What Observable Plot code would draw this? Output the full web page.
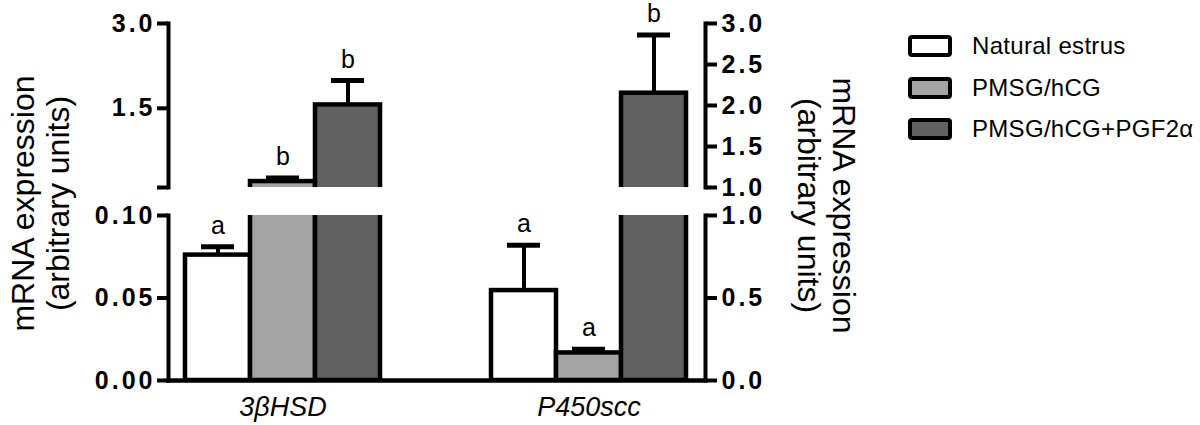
<!DOCTYPE html>
<html>
<head>
<meta charset="utf-8">
<script src="https://cdn.jsdelivr.net/npm/d3@7"></script>
<script src="https://cdn.jsdelivr.net/npm/@observablehq/plot@0.6"></script>
<style>
  body { margin: 0; background: #fff; }
  #chart { position: relative; width: 1200px; height: 425px; font-family: 'Liberation Sans', Arial, Helvetica, sans-serif; color: #000; }
  #chart svg { position: absolute; left: 0; top: 0; }
  g[aria-label="y-axis tick label"] { font-weight: bold; letter-spacing: 3px; font-size: 25px; }
  g[aria-label="ytitle"] text { letter-spacing: 1.2px; }
  .legend { position: absolute; left: 908px; top: 35px; }
  .legend .row { display: flex; align-items: center; height: 22px; }
  .legend .row + .row { margin-top: 19.5px; }
  .legend .sw { box-sizing: border-box; width: 44px; height: 22px; border: 4px solid #000; border-radius: 4px; }
  .legend .lab { margin-left: 20px; font-size: 24px; line-height: 22px; white-space: nowrap; letter-spacing: 0.3px; }
</style>
</head>
<body>
<div id="chart"></div>
<script>
// ---- data ----
const genes = ["3βHSD", "P450scc"];
const series = ["Natural estrus", "PMSG/hCG", "PMSG/hCG+PGF2α"];
const fills = ["#ffffff", "#a3a3a3", "#616161"];

const hsdMean = [0.076, 0.205, 1.56];
const hsdUpper = [0.081, 0.27, 1.99];
const hsdLetters = ["a", "b", "b"];

const p450Mean = [0.545, 0.167, 2.15];
const p450Upper = [0.82, 0.19, 2.86];
const p450Letters = ["a", "a", "b"];

const leftLowerDomain = [0, 0.1];
const leftUpperDomain = [0.1, 3.0];
const rightLowerDomain = [0, 1.0];
const rightUpperDomain = [1.0, 3.0];

const leftLowerTicks = [0, 0.05, 0.10];
const leftUpperTicks = [0.1, 1.5, 3.0];
const leftUpperLabels = ["", "1.5", "3.0"];
const rightLowerTicks = [0, 0.5, 1.0];
const rightUpperTicks = [1.0, 1.5, 2.0, 2.5, 3.0];

const yTitle = "mRNA expression\n(arbitrary units)";

// ---- build ----
const chart = document.getElementById("chart");
const FONT = "'Liberation Sans', Arial, Helvetica, sans-serif";

function rows(means, uppers, letters) {
  return series.map((s, i) => ({series: s, mean: means[i], hi: uppers[i], letter: letters[i]}));
}

function panel({data, domain, ticks, tickFormat, side, lower, gapL, gapR, gene, extra = []}) {
  const top = lower ? 215 : 23;
  const bottom = lower ? 45 : 238;
  // in an upper segment, keep only the rows that reach into it
  const shown = lower ? data : data.filter(d => d.hi > domain[0]);
  const barsShown = lower ? data : data.filter(d => d.mean > domain[0]);
  return Plot.plot({
    width: 1200,
    height: 425,
    marginTop: top,
    marginBottom: bottom,
    marginLeft: 168,
    marginRight: 495,
    style: {background: "transparent", fontFamily: FONT, overflow: "visible", color: "#000"},
    x: {domain: series, padding: 0, insetLeft: gapL, insetRight: gapR, axis: null},
    y: {domain},
    color: {domain: series, range: fills},
    marks: [
      Plot.frame({anchor: side, strokeWidth: 4}),
      Plot.axisY(ticks, {
        anchor: side, tickSize: 11, tickPadding: side === "left" ? 2 : 5,
        strokeWidth: 4, tickFormat, fontSize: 25, fontWeight: "bold", label: null
      }),
      lower ? Plot.ruleY([0], {strokeWidth: 4, strokeLinecap: "square"}) : null,
      Plot.ruleX(barsShown, {x: "series", y1: "mean", y2: "hi", strokeWidth: 4, clip: true}),
      Plot.tickY(shown, {x: "series", y: "hi", strokeWidth: 5, insetLeft: 16, insetRight: 16, clip: true}),
      Plot.barY(barsShown, {x: "series", y: "mean", fill: "series", stroke: "#000", strokeWidth: 4.5, clip: true}),
      Plot.text(data, {
        filter: d => d.hi > domain[0] && d.hi <= domain[1],
        x: "series", y: "hi", text: "letter", lineAnchor: "bottom", dy: -13,
        fontSize: 25, fontWeight: "normal"
      }),
      lower ? Plot.text([gene], {
        x: () => series[1], frameAnchor: "bottom", text: d => d, dy: 26.5,
        lineAnchor: "middle", textAnchor: "middle",
        fontSize: 27, fontStyle: "italic", fontWeight: "normal"
      }) : null,
      ...extra
    ]
  });
}

const hsd = rows(hsdMean, hsdUpper, hsdLetters);
const p450 = rows(p450Mean, p450Upper, p450Letters);

const f2 = d3.format(".2f"), f1 = d3.format(".1f");

chart.append(panel({
  data: hsd, domain: leftLowerDomain, ticks: leftLowerTicks, tickFormat: f2,
  side: "left", lower: true, gapL: 16, gapR: 325, gene: genes[0],
  extra: [Plot.text([yTitle], {
    ariaLabel: "ytitle", frameAnchor: "top-left", text: d => d, rotate: -90,
    textAnchor: "middle", lineAnchor: "middle",
    dx: -128, dy: -12, fontSize: 32, lineHeight: 1.1, fontWeight: "normal"
  })]
}));
chart.append(panel({
  data: hsd, domain: leftUpperDomain, ticks: leftUpperTicks,
  tickFormat: d => leftUpperLabels[leftUpperTicks.indexOf(d)],
  side: "left", lower: false, gapL: 16, gapR: 325
}));
chart.append(panel({
  data: p450, domain: rightLowerDomain, ticks: rightLowerTicks, tickFormat: f1,
  side: "right", lower: true, gapL: 322, gapR: 18, gene: genes[1],
  extra: [Plot.text([yTitle], {
    ariaLabel: "ytitle", frameAnchor: "top-right", text: d => d, rotate: 90,
    textAnchor: "middle", lineAnchor: "middle",
    dx: 121, dy: -10, fontSize: 32, lineHeight: 1.1, fontWeight: "normal"
  })]
}));
chart.append(panel({
  data: p450, domain: rightUpperDomain, ticks: rightUpperTicks, tickFormat: f1,
  side: "right", lower: false, gapL: 322, gapR: 18
}));

// legend
const legend = document.createElement("div");
legend.className = "legend";
series.forEach((s, i) => {
  const row = document.createElement("div");
  row.className = "row";
  const sw = document.createElement("div");
  sw.className = "sw";
  sw.style.background = fills[i];
  const lab = document.createElement("div");
  lab.className = "lab";
  lab.textContent = s;
  row.append(sw, lab);
  legend.append(row);
});
chart.append(legend);
</script>
</body>
</html>
